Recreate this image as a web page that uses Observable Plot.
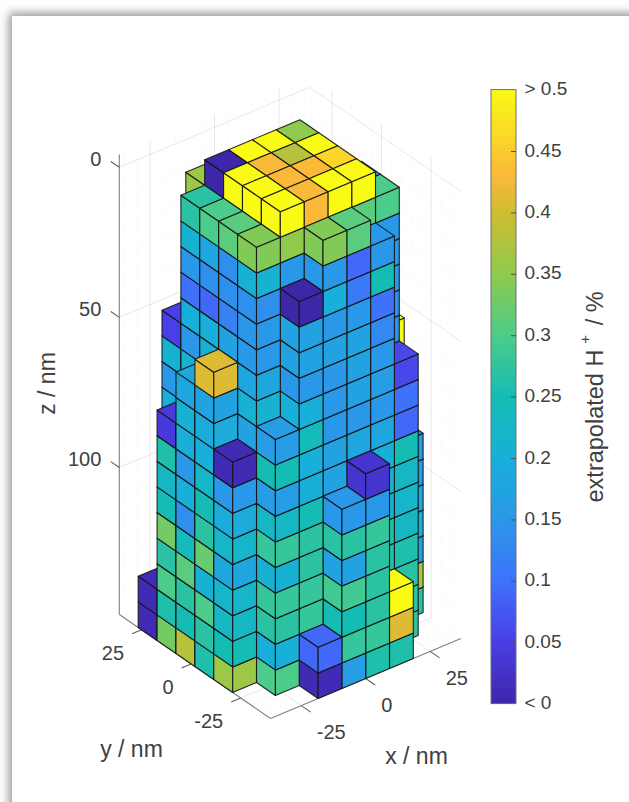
<!DOCTYPE html>
<html>
<head>
<meta charset="utf-8">
<script src="https://cdn.jsdelivr.net/npm/d3@7"></script>
<script src="https://cdn.jsdelivr.net/npm/@observablehq/plot@0.6"></script>
<style>
html,body{margin:0;padding:0;background:#fff;overflow:hidden;width:629px;height:802px}
#sheet{position:absolute;left:12px;top:16px;width:800px;height:1000px;background:#fff;box-shadow:0 0 9px 3px rgba(0,0,0,.42)}
#main,#bar{position:absolute;left:0;top:0}
svg{background:transparent}
</style>
</head>
<body>
<div id="sheet"></div>
<div id="main"></div>
<div id="bar"></div>
<script>
// voxel columns: grid column index, first layer, H+ value of each layer from there upward
const colI = [7,7,6,6,6,5,5,5,5,5,5,4,4,4,4,4,4,3,3,3,3,3,3,2,2,2,2,2,2,2,1,1,1,1,1,1,0,0,0,0,0];
const colJ = [3,2,3,2,1,5,4,3,2,1,0,5,4,3,2,1,0,5,4,3,2,1,0,6,5,4,3,2,1,0,6,5,4,3,2,1,6,5,4,3,2];
const colStart = [10,0,16,11,0,17,17,17,16,3,0,17,17,17,17,8,0,17,17,17,17,6,0,16,17,17,17,14,2,0,8,9,11,12,9,0,0,0,0,0,0];
const colValues = [
  [.5],
  [.27,.37,.17,.2,.19,.15,.15],
  [.14],
  [.14,.14,.15,.15,.15,.3],
  [.27,.27,.27,.26,.23,.22,.23,.25,.09,.1,.06],
  [.35],[.5],[.46],[.31,.5],
  [.26,.26,.21,.21,.2,.18,.15,.16,.15,.13,.1,.25,.15],
  [.26,.41,.5],
  [.5],[.38],[.43],[.5],
  [.18,.15,.17,.17,.17,.15,.11,.09,.31],
  [.26,.28,.27,.27,.27,.28,.15,.03],
  [.5],[.43],[.43],[.43],
  [.2,.17,.17,.15,.15,.15,.17,.15,.2,.15,.34],
  [.16,.28,.25,.29,.17,.27,.15],
  [.36],[.0],[.5],[.5],
  [.15,.15,.35,.5],
  [.28,.28,.27,.27,.25,.2,.2,.24,.2,.15,.17,.17,.0],
  [.01,.09],
  [.2,.15,.21,.05],
  [.15,.21,.15,.2,.1,.15,.21,.27],
  [.2,.2,.09,.14,.18,.3],
  [.17,.12,.14,.14,.31],
  [.17,.21,.18,.15,.15,.14,.21,.34],
  [.3,.2,.27,.28,.21,.28,.23,.16,.25,.16],
  [.01,.01],
  [.33,.26,.3,.27,.33,.25,.23,.26,.04],
  [.38,.25,.27,.31,.24,.14,.2,.15,.2,.21,.18],
  [.26,.27,.3,.21,.32,.27,.25,.22,.2,.19,.17,.41],
  [.36,.25,.23,.22,.18,.22,.19,.15,.01]
];

// axes (nm)
const xTicks = [-25,0,25];
const yTicks = [25,0,-25];
const zTicks = [0,50,100];
const xMinor = [-35,-30,-20,-15,-10,-5,5,10,15,20,30,35];
const yMinor = [-35,-30,-20,-15,-10,-5,5,10,15,20,30,35];
const zMinor = [10,20,30,40,60,70,80,90,110,120,130,140];

// colour bar
const barTicks = [0,.05,.1,.15,.2,.25,.3,.35,.4,.43,.5];
const barTickValues = [0,.05,.1,.15,.2,.25,.3,.35,.4,.45,.5];
const barTickText = ["< 0","0.05","0.1","0.15","0.2","0.25","0.3","0.35","0.4","0.45","> 0.5"];
const parula = ["#3e26a8","#4a3ee6","#3f72fb","#2a98e8","#18b0d8","#14bcb4","#4ccc8a","#8fca4c","#d0bc32","#fbb93a","#f9fb14"];

// view of the box
const ground = [270,718];
const stepI = [23.8,-10], stepJ = [-18.9,-13], stepH = 25.6;
const sx = (i,j) => ground[0] + i*stepI[0] + j*stepJ[0];
const sy = (i,j,h) => ground[1] + i*stepI[1] + j*stepJ[1] - h*stepH;
const iOfX = x => 4 + x/9.23;
const jOfY = y => 4.2 + y/9.54;
const hOfZ = z => (149 - z)/8.53;
const pt = (i,j,h) => ({px:sx(i,j), py:sy(i,j,h)});
const seg = (a,b) => ({x1:a.px,y1:a.py,x2:b.px,y2:b.py});

// voxels, far to near
const voxels = [];
colValues.forEach((vals,c) => vals.forEach((v,n) =>
  voxels.push({i:colI[c], j:colJ[c], k:colStart[c]+n, v})));
voxels.sort((a,b) => b.i-a.i || b.j-a.j || a.k-b.k);

const faces = [];
voxels.forEach((c,n) => {
  const {i,j,k,v} = c;
  const add = (id,corners) => corners.forEach(q => faces.push({face:n+id, v, ...pt(q[0],q[1],q[2])}));
  add("L",[[i,j,k],[i,j+1,k],[i,j+1,k+1],[i,j,k+1]]);
  add("R",[[i,j,k],[i+1,j,k],[i+1,j,k+1],[i,j,k+1]]);
  add("T",[[i,j,k+1],[i+1,j,k+1],[i+1,j+1,k+1],[i,j+1,k+1]]);
});

// walls and floor grid
const hTop = hOfZ(-4.3);
const gridFor = (xs,ys,zs) => [
  ...xs.map(x => seg(pt(iOfX(x),8,0),pt(iOfX(x),8,hTop))),
  ...xs.map(x => seg(pt(iOfX(x),0,0),pt(iOfX(x),8,0))),
  ...ys.map(y => seg(pt(8,jOfY(y),0),pt(8,jOfY(y),hTop))),
  ...ys.map(y => seg(pt(0,jOfY(y),0),pt(8,jOfY(y),0))),
  ...zs.map(z => seg(pt(0,8,hOfZ(z)),pt(8,8,hOfZ(z)))),
  ...zs.map(z => seg(pt(8,8,hOfZ(z)),pt(8,0,hOfZ(z))))
];
const gridMajor = gridFor(xTicks,yTicks,zTicks);
const gridMinor = gridFor(xMinor,yMinor,zMinor);

const axisLines = [
  seg(pt(0,0,0),pt(8,0,0)),
  seg(pt(0,0,0),pt(0,8,0)),
  seg(pt(0,8,0),pt(0,8,hTop))
];
const tickLines = [
  ...xTicks.map(x => seg(pt(iOfX(x),0,0),pt(iOfX(x),-.5,0))),
  ...yTicks.map(y => seg(pt(0,jOfY(y),0),pt(-.4,jOfY(y),0))),
  ...zTicks.map(z => seg(pt(0,8,hOfZ(z)),pt(0,8.45,hOfZ(z))))
];

const link = (data,o) => Plot.link(data,{x1:"x1",y1:"y1",x2:"x2",y2:"y2",...o});
const tickFont = {fontFamily:"Liberation Sans",fontSize:20,fill:"#404040"};
const titleFont = {fontFamily:"Liberation Sans",fontSize:23,fill:"#404040"};
const colorScale = {type:"linear",domain:barTicks,range:parula,interpolate:"rgb",clamp:true};

const plot = Plot.plot({
  width:629,height:802,margin:0,
  x:{domain:[0,629],range:[0,629],axis:null},
  y:{domain:[0,802],range:[0,802],axis:null},
  color:colorScale,
  style:{background:"transparent"},
  marks:[
    link(gridMinor,{stroke:"#000",strokeOpacity:.07,strokeWidth:.8,strokeDasharray:"1,2"}),
    link(gridMajor,{stroke:"#000",strokeOpacity:.09,strokeWidth:1}),
    link(axisLines,{stroke:"#808080",strokeWidth:1.1}),
    link(tickLines,{stroke:"#606060",strokeWidth:1.1}),
    Plot.line(faces,{x:"px",y:"py",z:"face",fill:"v",stroke:"#141414",strokeOpacity:.9,strokeWidth:1.1,curve:"linear-closed"}),
    Plot.text(zTicks,{x:z=>sx(0,8),y:z=>sy(0,8,hOfZ(z)),text:z=>String(z),textAnchor:"end",dx:-18,dy:-8,...tickFont}),
    Plot.text(xTicks,{x:v=>sx(iOfX(v),0),y:v=>sy(iOfX(v),0,0),text:v=>String(v),textAnchor:"start",dx:15.5,dy:27,...tickFont}),
    Plot.text(yTicks,{x:v=>sx(0,jOfY(v)),y:v=>sy(0,jOfY(v),0),text:v=>String(v),textAnchor:"end",dx:-17.5,dy:23.5,...tickFont}),
    Plot.text(["x / nm"],{x:()=>416,y:()=>756,text:d=>d,...titleFont}),
    Plot.text(["y / nm"],{x:()=>131,y:()=>749,text:d=>d,...titleFont}),
    Plot.text(["z / nm"],{x:()=>47,y:()=>383,text:d=>d,rotate:-90,...titleFont})
  ]
});
document.getElementById("main").append(plot);

// colour bar, drawn from the same colour table
const bands = d3.range(0,.5,.0025);
const bar = Plot.plot({
  width:629,height:802,margin:0,
  x:{domain:[0,1],range:[491,516],axis:null},
  y:{domain:[0,.5],range:[703.6,89.6],axis:null},
  color:colorScale,
  style:{background:"transparent"},
  marks:[
    Plot.rect(bands,{x1:()=>0,x2:()=>1,y1:d=>d,y2:d=>d+.003,fill:d=>d+.00125,shapeRendering:"crispEdges"}),
    Plot.rect([0],{x1:()=>0,x2:()=>1,y1:()=>0,y2:()=>.5,stroke:"#707070",strokeWidth:1,fill:"none"}),
    Plot.ruleY(barTickValues.slice(1,-1),{x1:()=>.8,x2:()=>1,stroke:"#505050",strokeWidth:1}),
    Plot.text(barTickValues,{x:()=>1,y:d=>d,text:(d,n)=>barTickText[n],textAnchor:"start",dx:8,dy:-1,fontFamily:"Liberation Sans",fontSize:19,fill:"#404040"}),
    Plot.text(["extrapolated H"],{x:()=>4.16,y:()=>0.1642,text:d=>d,rotate:-90,textAnchor:"start",...titleFont,fontSize:23.5}),
    Plot.text(["+"],{x:()=>3.76,y:()=>0.297,text:d=>d,rotate:-90,...titleFont,fontSize:15}),
    Plot.text(["/ %"],{x:()=>4.16,y:()=>0.3085,text:d=>d,rotate:-90,textAnchor:"start",...titleFont,fontSize:23.5})
  ]
});
document.getElementById("bar").append(bar);
</script>
</body>
</html>
